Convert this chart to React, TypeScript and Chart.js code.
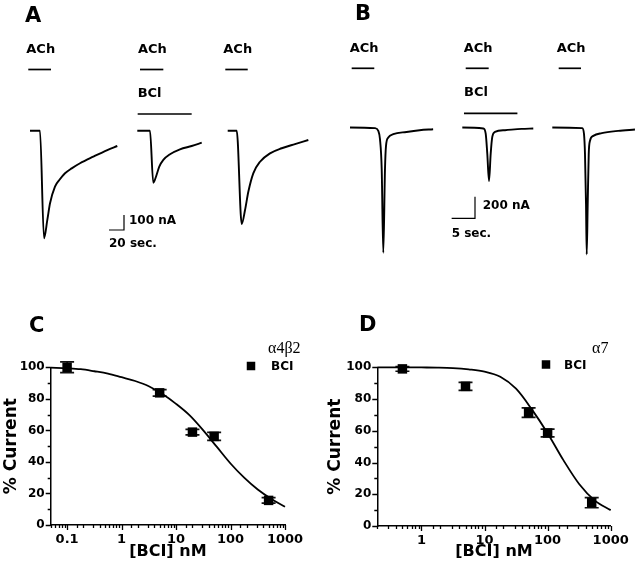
import React, { useEffect, useRef } from "react";
import { Chart, registerables } from "chart.js";

Chart.register(...registerables);

const SANS = "'DejaVu Sans', 'Liberation Sans', Arial, sans-serif";
const SERIF = "'Liberation Serif', 'DejaVu Serif', 'Times New Roman', serif";
Chart.defaults.font.family = SANS;

// ---------- Panel A: α4β2 currents (time in s, current in nA, relative to each trace start)
const a1Time = [0, 13.3, 18.7, 23.1, 26.7, 33.3, 39.1, 46.7, 55.6, 66.7, 84.4, 103.1, 116.4];
const a1Current = [0, 0, -717, -595, -484, -373, -329, -284, -251, -217, -173, -129, -102];
const a2Time = [0, 16.9, 21.3, 24.9, 29.3, 34.7, 43.6, 56.9, 72.5, 85.9];
const a2Current = [0, 0, -347, -307, -240, -195, -157, -124, -102, -80];
const a3Time = [0, 12, 18.7, 23.1, 27.5, 34.1, 43.1, 56.4, 72, 89.7, 107.5];
const a3Current = [0, 0, -622, -529, -407, -284, -207, -151, -117, -89, -62];
// drug application periods (s, relative to trace start)
const aAchOn = [-2.3, 3.6, -3.2];
const aAchOff = [28, 34.7, 26.7];
const aBclOn = 0.5;
const aBclOff = 72.5;

// ---------- Panel B: α7 currents
const b1Time = [0, 5.35, 6.06, 6.42, 6.79, 7.13, 7.49, 7.71, 8.2, 9.27, 12.1, 14.9, 17.8];
const b1Current = [0, -6, -31, -108, -386, -1157, -386, -170, -93, -62, -41, -25, -16];
const b2Time = [0, 4.5, 5.01, 5.35, 5.72, 6.08, 6.42, 7.0, 9.14, 12.7, 15.2];
const b2Current = [0, -9, -56, -241, -494, -241, -87, -41, -25, -13, -9];
const b3Time = [0, 6.42, 6.79, 7.0, 7.22, 7.37, 7.58, 7.8, 8.07, 8.78, 10.6, 14.1, 17.7];
const b3Current = [0, -6, -61, -246, -709, -1172, -709, -246, -123, -77, -52, -31, -19];
const bAchOn = [0.36, 0.73, 1.37];
const bAchOff = [5.2, 5.65, 6.15];
const bBclOn = 0.36;
const bBclOff = 11.8;

// ---------- Panel C: α4β2 concentration-response
const cConc = [0.1, 5, 20, 50, 500];
const cCurrent = [100, 83.8, 58.9, 56.2, 15.6];
const cErr = [3.4, 2.1, 1.7, 2.5, 1.7];
const cFitConc = [0.05, 0.1, 0.178, 0.316, 0.562, 1, 1.78, 3.16, 5.62, 10, 17.8, 31.6, 56.2, 100, 178, 316, 562, 1000];
const cFitCurrent = [99.8, 99.4, 98.8, 97.5, 96, 93.7, 91.3, 88, 83, 76.8, 69.5, 60, 49.5, 39, 30, 22.5, 16.5, 11.6];

// ---------- Panel D: α7 concentration-response
const dConc = [0.5, 5, 50, 100, 500];
const dCurrent = [99, 88, 71.4, 58.6, 14.7];
const dErr = [1.5, 2.5, 3, 2.4, 3.2];
const dFitConc = [0.2, 0.316, 0.562, 1, 1.78, 3.16, 5.62, 10, 17.8, 31.6, 56.2, 100, 178, 316, 562, 1000];
const dFitCurrent = [100, 100, 100, 99.9, 99.8, 99.5, 98.7, 97.3, 94, 86.5, 73.5, 58.5, 41.5, 26.5, 16, 10];

// ---------------------------------------------------------------------------
type TraceSpec = {
  letter: string;
  letterPos: [number, number];
  width: number;
  height: number;
  pxPerS: number;
  pxPerNA: number;
  baselinePx: number;
  traces: { time: number[]; current: number[] }[];
  startPx: number[];
  achOn: number[];
  achOff: number[];
  achBarPx: number;
  bclTrace: number;
  bclOn: number;
  bclOff: number;
  bclBarPx: number;
  sbCorner: [number, number];
  sbNA: number;
  sbSec: number;
  sbNaLabel: string;
  sbSecLabel: string;
  naLabelOff: [number, number];
  secLabelDy: number;
};

function makeTraceConfig(spec: TraceSpec): any {
  const xMax = spec.width / spec.pxPerS;
  const yMax = spec.baselinePx / spec.pxPerNA;
  const yMin = -(spec.height - spec.baselinePx) / spec.pxPerNA;
  const toNA = (py: number) => (spec.baselinePx - py) / spec.pxPerNA;
  const datasets: any[] = [];
  const lineBase = {
    borderColor: "#000",
    pointRadius: 0,
    showLine: true,
    fill: false,
  };
  spec.traces.forEach((tr, i) => {
    const off = spec.startPx[i] / spec.pxPerS;
    datasets.push({
      ...lineBase,
      borderWidth: 1.9,
      cubicInterpolationMode: "monotone",
      data: tr.time.map((t, k) => ({ x: off + t, y: tr.current[k] })),
    });
    datasets.push({
      ...lineBase,
      borderWidth: 1.7,
      data: [
        { x: off + spec.achOn[i], y: toNA(spec.achBarPx) },
        { x: off + spec.achOff[i], y: toNA(spec.achBarPx) },
      ],
    });
  });
  const bOff = spec.startPx[spec.bclTrace] / spec.pxPerS;
  datasets.push({
    ...lineBase,
    borderWidth: 1.7,
    data: [
      { x: bOff + spec.bclOn, y: toNA(spec.bclBarPx) },
      { x: bOff + spec.bclOff, y: toNA(spec.bclBarPx) },
    ],
  });

  const decor = {
    id: "traceDecor",
    afterDraw(chart: any) {
      const ctx = chart.ctx;
      const xs = chart.scales.x;
      const ys = chart.scales.y;
      ctx.save();
      ctx.fillStyle = "#000";
      ctx.strokeStyle = "#000";
      ctx.textBaseline = "alphabetic";
      ctx.textAlign = "left";
      ctx.font = `bold 21px ${SANS}`;
      ctx.fillText(spec.letter, spec.letterPos[0], spec.letterPos[1]);
      ctx.font = `bold 13px ${SANS}`;
      spec.startPx.forEach((sp, i) => {
        const off = sp / spec.pxPerS;
        const x = xs.getPixelForValue(off + spec.achOn[i]);
        ctx.fillText("ACh", x - 2, spec.achBarPx - 16.5);
      });
      const bx = xs.getPixelForValue(bOff + spec.bclOn);
      ctx.fillText("BCl", bx, spec.bclBarPx - 17);
      // scale bar
      const [cx, cy] = spec.sbCorner;
      const lenX = xs.getPixelForValue(spec.sbSec) - xs.getPixelForValue(0);
      const lenY = ys.getPixelForValue(0) - ys.getPixelForValue(spec.sbNA);
      ctx.lineWidth = 1.2;
      ctx.beginPath();
      ctx.moveTo(cx, cy - lenY);
      ctx.lineTo(cx, cy);
      ctx.lineTo(cx - lenX, cy);
      ctx.stroke();
      ctx.font = `bold 12px ${SANS}`;
      ctx.fillText(spec.sbNaLabel, cx + spec.naLabelOff[0], cy + spec.naLabelOff[1]);
      ctx.fillText(spec.sbSecLabel, cx - lenX, cy + spec.secLabelDy);
      ctx.restore();
    },
  };

  return {
    type: "scatter",
    data: { datasets },
    options: {
      responsive: false,
      animation: false,
      events: [],
      layout: { padding: 0 },
      plugins: { legend: { display: false }, tooltip: { enabled: false } },
      scales: {
        x: { type: "linear", display: false, min: 0, max: xMax },
        y: { type: "linear", display: false, min: yMin, max: yMax },
      },
    },
    plugins: [decor],
  };
}

type DoseSpec = {
  letter: string;
  letterPos: [number, number];
  receptor: string;
  receptorPos: [number, number];
  legendSquare: [number, number];
  legendTextPos: [number, number];
  conc: number[];
  current: number[];
  err: number[];
  fitConc: number[];
  fitCurrent: number[];
  xMin: number;
  xMax: number;
  padTop: number;
  padRight: number;
  yAxisW: number;
  xAxisH: number;
  yTitlePad: number;
};

const isPow10 = (v: number) => {
  const l = Math.log10(v);
  return Math.abs(l - Math.round(l)) < 1e-6;
};

function makeDoseConfig(spec: DoseSpec): any {
  const decor = {
    id: "doseDecor",
    beforeDatasetsDraw(chart: any) {
      const ctx = chart.ctx;
      const xs = chart.scales.x;
      const ys = chart.scales.y;
      ctx.save();
      ctx.strokeStyle = "#111";
      ctx.lineWidth = 1.7;
      ctx.beginPath();
      spec.conc.forEach((c, i) => {
        const px = xs.getPixelForValue(c);
        const yT = ys.getPixelForValue(spec.current[i] + spec.err[i]);
        const yB = ys.getPixelForValue(spec.current[i] - spec.err[i]);
        ctx.moveTo(px, yT);
        ctx.lineTo(px, yB);
        ctx.moveTo(px - 7, yT);
        ctx.lineTo(px + 7, yT);
        ctx.moveTo(px - 7, yB);
        ctx.lineTo(px + 7, yB);
      });
      ctx.stroke();
      ctx.restore();
    },
    afterDraw(chart: any) {
      const ctx = chart.ctx;
      const xs = chart.scales.x;
      const ys = chart.scales.y;
      const a = chart.chartArea;
      ctx.save();
      ctx.strokeStyle = "#000";
      ctx.lineWidth = 1.3;
      ctx.beginPath();
      xs.ticks.forEach((t: any) => {
        const px = Math.round(xs.getPixelForValue(t.value)) + 0.5;
        const len = isPow10(t.value) ? 5 : 3;
        ctx.moveTo(px, a.bottom);
        ctx.lineTo(px, a.bottom + len);
      });
      for (let v = 0; v <= 100; v += 10) {
        const py = Math.round(ys.getPixelForValue(v)) + 0.5;
        const len = v % 20 === 0 ? 5 : 3;
        ctx.moveTo(a.left, py);
        ctx.lineTo(a.left - len, py);
      }
      ctx.stroke();
      // letter
      ctx.fillStyle = "#000";
      ctx.textAlign = "left";
      ctx.textBaseline = "alphabetic";
      ctx.font = `bold 21px ${SANS}`;
      ctx.fillText(spec.letter, spec.letterPos[0], spec.letterPos[1]);
      // legend
      ctx.font = `16px ${SERIF}`;
      ctx.fillText(spec.receptor, spec.receptorPos[0], spec.receptorPos[1]);
      const s = 8.5;
      ctx.fillRect(spec.legendSquare[0] - s / 2, spec.legendSquare[1] - s / 2, s, s);
      ctx.font = `bold 12px ${SANS}`;
      ctx.fillText("BCI", spec.legendTextPos[0], spec.legendTextPos[1]);
      ctx.restore();
    },
  };

  const tickFont = { family: SANS, weight: "bold" as const };
  return {
    type: "scatter",
    data: {
      datasets: [
        {
          data: spec.conc.map((c, i) => ({ x: c, y: spec.current[i] })),
          pointStyle: "rect",
          pointRadius: 6.7,
          backgroundColor: "#000",
          borderWidth: 0,
          showLine: false,
          clip: false,
        },
        {
          data: spec.fitConc.map((c, i) => ({ x: c, y: spec.fitCurrent[i] })),
          showLine: true,
          pointRadius: 0,
          borderColor: "#000",
          borderWidth: 1.8,
          cubicInterpolationMode: "monotone",
          fill: false,
          clip: false,
        },
      ],
    },
    options: {
      responsive: false,
      animation: false,
      events: [],
      layout: { padding: { left: 0, top: spec.padTop, right: spec.padRight, bottom: 0 } },
      plugins: { legend: { display: false }, tooltip: { enabled: false } },
      scales: {
        x: {
          type: "logarithmic",
          min: spec.xMin,
          max: spec.xMax,
          grid: { display: false, drawTicks: true, tickLength: 5 },
          border: { display: true, color: "#000", width: 1.5 },
          ticks: {
            autoSkip: false,
            maxRotation: 0,
            minRotation: 0,
            padding: 2,
            color: "#000",
            font: { ...tickFont, size: 13 },
            callback: (v: any) => (isPow10(Number(v)) ? String(Number(Number(v).toPrecision(3))) : ""),
          },
          title: {
            display: true,
            text: "[BCI] nM",
            color: "#000",
            font: { family: SANS, weight: "bold", size: 16 },
            padding: { top: 0, bottom: 5 },
          },
          afterFit: (sc: any) => {
            sc.height = spec.xAxisH;
          },
        },
        y: {
          type: "linear",
          min: 0,
          max: 100,
          grid: { display: false, drawTicks: true, tickLength: 5 },
          border: { display: true, color: "#000", width: 1.5 },
          ticks: {
            stepSize: 20,
            padding: 1,
            color: "#000",
            font: { ...tickFont, size: 12 },
          },
          title: {
            display: true,
            text: "% Current",
            color: "#000",
            font: { family: SANS, weight: "bold", size: 17 },
            padding: { top: spec.yTitlePad, bottom: 0 },
          },
          afterFit: (sc: any) => {
            sc.width = spec.yAxisW;
          },
        },
      },
    },
    plugins: [decor],
  };
}

const specA: TraceSpec = {
  letter: "A",
  letterPos: [25, 22],
  width: 320,
  height: 290,
  pxPerS: 0.75,
  pxPerNA: 0.15,
  baselinePx: 130.7,
  traces: [
    { time: a1Time, current: a1Current },
    { time: a2Time, current: a2Current },
    { time: a3Time, current: a3Current },
  ],
  startPx: [30, 137.3, 227.7],
  achOn: aAchOn,
  achOff: aAchOff,
  achBarPx: 69.5,
  bclTrace: 1,
  bclOn: aBclOn,
  bclOff: aBclOff,
  bclBarPx: 114,
  sbCorner: [124, 230],
  sbNA: 100,
  sbSec: 20,
  sbNaLabel: "100 nA",
  sbSecLabel: "20 sec.",
  naLabelOff: [5, -6],
  secLabelDy: 17,
};

const specB: TraceSpec = {
  letter: "B",
  letterPos: [35, 20],
  width: 320,
  height: 290,
  pxPerS: 4.67,
  pxPerNA: 0.1083,
  baselinePx: 127.5,
  traces: [
    { time: b1Time, current: b1Current },
    { time: b2Time, current: b2Current },
    { time: b3Time, current: b3Current },
  ],
  startPx: [30, 142.3, 232.3],
  achOn: bAchOn,
  achOff: bAchOff,
  achBarPx: 68.3,
  bclTrace: 1,
  bclOn: bBclOn,
  bclOff: bBclOff,
  bclBarPx: 113.3,
  sbCorner: [155, 218.3],
  sbNA: 200,
  sbSec: 5,
  sbNaLabel: "200 nA",
  sbSecLabel: "5 sec.",
  naLabelOff: [7.7, -9.3],
  secLabelDy: 18.7,
};

const specC: DoseSpec = {
  letter: "C",
  letterPos: [29, 42],
  receptor: "α4β2",
  receptorPos: [268, 63],
  legendSquare: [251, 76],
  legendTextPos: [271, 80],
  conc: cConc,
  current: cCurrent,
  err: cErr,
  fitConc: cFitConc,
  fitCurrent: cFitCurrent,
  xMin: 0.05,
  xMax: 1000,
  padTop: 77.3,
  padRight: 35,
  yAxisW: 50.7,
  xAxisH: 41,
  yTitlePad: 1,
};

const specD: DoseSpec = {
  letter: "D",
  letterPos: [39, 41],
  receptor: "α7",
  receptorPos: [272, 63],
  legendSquare: [226, 74.5],
  legendTextPos: [244, 78.5],
  conc: dConc,
  current: dCurrent,
  err: dErr,
  fitConc: dFitConc,
  fitCurrent: dFitCurrent,
  xMin: 0.2,
  xMax: 1000,
  padTop: 77.3,
  padRight: 29.3,
  yAxisW: 57.3,
  xAxisH: 40,
  yTitlePad: 5.3,
};

function ChartCanvas(props: { config: any; left: number; top: number; width: number; height: number }) {
  const ref = useRef<HTMLCanvasElement | null>(null);
  useEffect(() => {
    if (!ref.current) return;
    const chart = new Chart(ref.current, props.config);
    return () => chart.destroy();
  }, []);
  return (
    <canvas
      ref={ref}
      width={props.width}
      height={props.height}
      style={{
        position: "absolute",
        left: props.left,
        top: props.top,
        width: props.width,
        height: props.height,
      }}
    />
  );
}

export default function App() {
  return (
    <div
      style={{
        position: "absolute",
        left: 0,
        top: 0,
        width: 640,
        height: 566,
        background: "#fff",
        overflow: "hidden",
      }}
    >
      <ChartCanvas config={makeTraceConfig(specA)} left={0} top={0} width={320} height={290} />
      <ChartCanvas config={makeTraceConfig(specB)} left={320} top={0} width={320} height={290} />
      <ChartCanvas config={makeDoseConfig(specC)} left={0} top={290} width={320} height={276} />
      <ChartCanvas config={makeDoseConfig(specD)} left={320} top={290} width={320} height={276} />
    </div>
  );
}
